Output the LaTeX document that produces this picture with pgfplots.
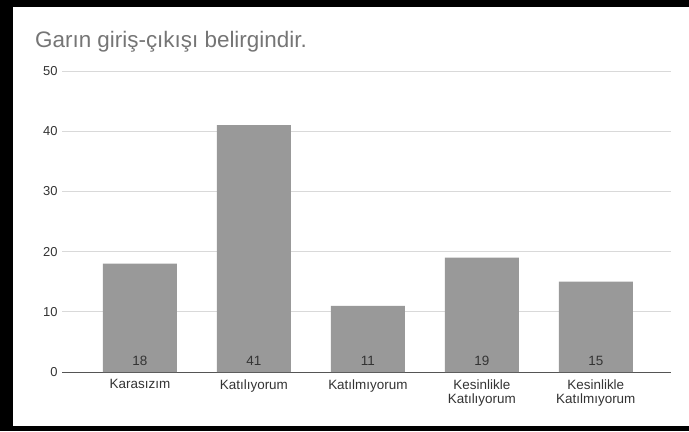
\documentclass[border=0pt]{standalone}
\usepackage{fontspec}
\setmainfont{Liberation Sans}
\usepackage{pgfplots}
\pgfplotsset{compat=1.18}
\usepackage{pgfplotstable}

\definecolor{bargray}{HTML}{999999}
\definecolor{gridgray}{HTML}{D9D9D9}
\definecolor{titlegray}{HTML}{757575}
\definecolor{labelgray}{HTML}{333333}
\definecolor{axisgray}{HTML}{555555}

\pgfplotstableread{
x y
0 18
1 41
2 11
3 19
4 15
}\answers

\begin{document}
\begin{tikzpicture}[x=1bp,y=1bp]
% frame
\fill[black] (0,0) rectangle (689,431);
\fill[white] (13,5) rectangle (689,424);

\node[anchor=base west, text=titlegray, font=\fontsize{22.5}{26}\selectfont, inner sep=0pt]
  at (35,384) {Garın giriş-çıkışı belirgindir.};

\begin{axis}[
  at={(62bp,59bp)}, anchor=south west,
  scale only axis,
  width=609bp, height=301bp,
  xmin=-0.684, xmax=4.66,
  ymin=0, ymax=50,
  ytick={0,10,20,30,40,50},
  xtick={0,1,2,3,4},
  xticklabels={Karasızım, Katılıyorum, Katılmıyorum, {Kesinlikle\\Katılıyorum}, {Kesinlikle\\Katılmıyorum}},
  axis x line=bottom, axis y line=left,
  x axis line style={draw=axisgray, line width=0.9bp, -},
  y axis line style={draw=none},
  major tick length=0pt,
  ymajorgrids,
  grid style={draw=gridgray, line width=0.8bp},
  /pgf/number format/assume math mode=true,
  yticklabel style={font=\fontsize{13}{14}\selectfont, text=labelgray, xshift=-1bp},
  xticklabel style={font=\fontsize{13.5}{14}\selectfont, text=labelgray, align=center, yshift=-4bp},
  clip=false,
]
\addplot[ybar, bar width=0.65, fill=bargray, draw=none, bar shift=0pt] table[x=x, y=y] {\answers};
\addplot[draw=none, mark=none, nodes near coords, point meta=explicit,
  every node near coord/.append style={anchor=base, yshift=7bp, inner sep=0pt,
    font=\fontsize{13.5}{14}\selectfont, text=labelgray}]
  table[x=x, y expr=0, meta=y] {\answers};
\end{axis}
\end{tikzpicture}
\end{document}
